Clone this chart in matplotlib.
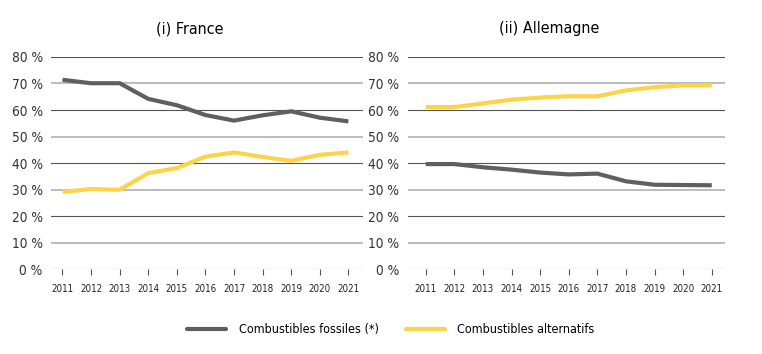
import matplotlib.pyplot as plt
from matplotlib.lines import Line2D

plt.rcParams['font.family'] = ['DejaVu Sans']
plt.rcParams['font.stretch'] = 'condensed'

years = [str(y) for y in range(2011, 2022)]
fr_fossiles = [71.4, 70.1, 70.1, 64.2, 61.8, 58.1, 56.0, 58.0, 59.5, 57.1, 55.7]
fr_alternatifs = [29.1, 30.2, 29.9, 36.2, 38.1, 42.4, 44.0, 42.3, 40.8, 43.1, 44.0]
de_fossiles = [39.6, 39.6, 38.4, 37.5, 36.4, 35.7, 36.0, 33.1, 31.8, 31.7, 31.6]
de_alternatifs = [61.1, 61.1, 62.5, 63.9, 64.7, 65.2, 65.2, 67.4, 68.6, 69.3, 69.3]
yticks = [0, 10, 20, 30, 40, 50, 60, 70, 80]

c_fossile = '#5f5f5f'
c_alt = '#fdd447'

fig = plt.figure(figsize=(7.62, 3.54), dpi=100)
ax1 = fig.add_axes([0.067, 0.240, 0.409, 0.599])
ax2 = fig.add_axes([0.535, 0.240, 0.416, 0.599])

# titres décalés vers la gauche comme dans l'original
panels = [
    (ax1, '(i) France', fr_fossiles, fr_alternatifs, (-0.4, 10.5), 0.445),
    (ax2, '(ii) Allemagne', de_fossiles, de_alternatifs, (-0.63, 10.45), 0.447),
]

for ax, title, fos, alt, xl, tx in panels:
    x = list(range(len(years)))
    # grille alternée foncé / clair
    for v in yticks:
        if v % 20 == 0:
            ax.axhline(v, color='#555555', lw=0.8, zorder=1)
        else:
            ax.axhline(v, color='#b0b0b0', lw=1.2, zorder=1)
    ax.plot(x, fos, color=c_fossile, lw=3, solid_capstyle='butt', zorder=3)
    ax.plot(x, alt, color=c_alt, lw=3, solid_capstyle='butt', zorder=3)
    ax.set_xlim(*xl)
    ax.set_ylim(0, 80)
    ax.set_xticks(x)
    ax.set_xticklabels(years, fontsize=7, color='#222222')
    ax.set_yticks(yticks)
    ax.set_yticklabels([f'{v} %' for v in yticks], fontsize=9.8, color='#333333')
    ax.tick_params(axis='y', length=0, pad=6)
    ax.tick_params(axis='x', length=4, width=0.8, color='#555555', pad=7)
    for s in ax.spines.values():
        s.set_visible(False)
    ax.set_title(title, fontsize=11.5, pad=17, x=tx)

handles = [
    Line2D([], [], color=c_fossile, lw=3, solid_capstyle='round'),
    Line2D([], [], color=c_alt, lw=3, solid_capstyle='round'),
]
fig.legend(handles, ['Combustibles fossiles (*)', 'Combustibles alternatifs'],
           loc='center', bbox_to_anchor=(0.513, 0.068), ncol=2, frameon=False,
           fontsize=9, handlelength=3.1, columnspacing=2.2, handletextpad=1.0)

plt.savefig('out.png', dpi=100)
